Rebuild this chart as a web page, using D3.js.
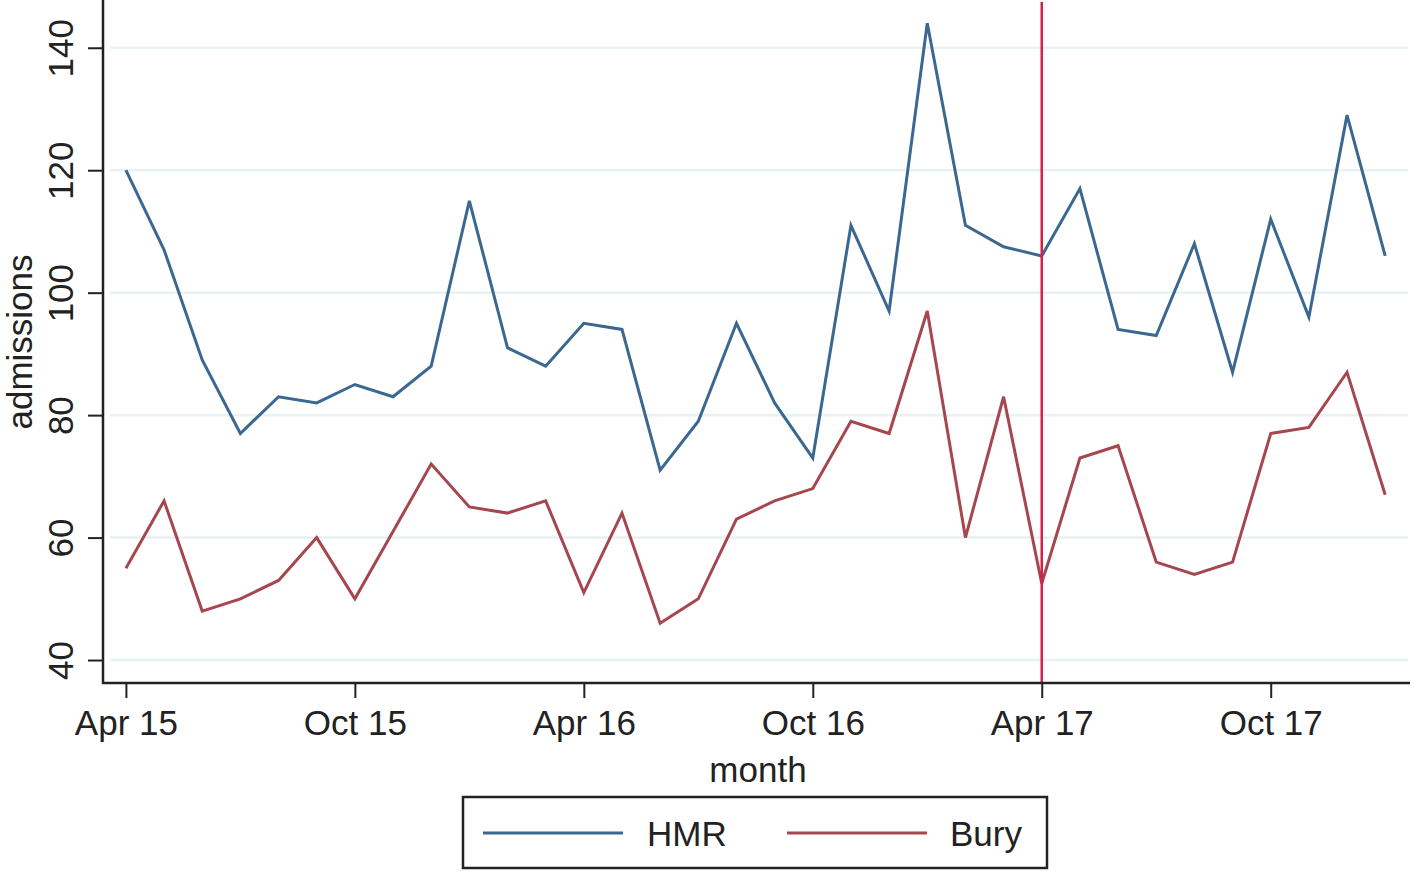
<!DOCTYPE html>
<html><head><meta charset="utf-8">
<script src="https://cdn.jsdelivr.net/npm/d3@7"></script>
<style>body{margin:0;background:#fff;}svg{display:block;font-family:"Liberation Sans",Arial,sans-serif;}</style>
</head><body>
<svg id="c" width="1417" height="873"></svg>
<script>
const months = ["Apr 15","May 15","Jun 15","Jul 15","Aug 15","Sep 15","Oct 15","Nov 15","Dec 15","Jan 16","Feb 16","Mar 16",
"Apr 16","May 16","Jun 16","Jul 16","Aug 16","Sep 16","Oct 16","Nov 16","Dec 16","Jan 17","Feb 17","Mar 17",
"Apr 17","May 17","Jun 17","Jul 17","Aug 17","Sep 17","Oct 17","Nov 17","Dec 17","Jan 18"];
const hmr  = [120,107,89,77,83,82,85,83,88,115,91,88,95,94,71,79,95,82,73,111,97,144,111,107.5,106,117,94,93,108,87,112,96,129,106];
const bury = [55,66,48,50,53,60,50,61,72,65,64,66,51,64,46,50,63,66,68,79,77,97,60,83,52.5,73,75,56,54,56,77,78,87,67];
const xTickIdx = [0,6,12,18,24,30];
const yTicks = [40,60,80,100,120,140];
const interventionIdx = 24;
const seriesNames = ["HMR","Bury"];
const colors = ["#3b6890","#a6464f"];

const svg = d3.select("#c");
const x = d3.scaleLinear().domain([-0.6, 33.65]).range([103, 1410]);
const y = d3.scaleLinear().domain([36.25, 147.8]).range([683, 0]);

// gridlines
svg.append("g").selectAll("line").data(yTicks).join("line")
  .attr("x1", 110).attr("x2", 1408)
  .attr("y1", d => y(d)).attr("y2", d => y(d))
  .attr("stroke", "#e8f1f3").attr("stroke-width", 2.5);

// series lines
const line = d3.line().x((d,i) => x(i)).y(d => y(d));
[hmr, bury].forEach((s, k) => {
  svg.append("path").datum(s).attr("d", line)
    .attr("fill", "none").attr("stroke", colors[k]).attr("stroke-width", 3)
    .attr("stroke-linejoin", "miter");
});

// intervention line
svg.append("line")
  .attr("x1", x(interventionIdx)).attr("x2", x(interventionIdx))
  .attr("y1", 2).attr("y2", 683)
  .attr("stroke", "#d81f4b").attr("stroke-width", 2.5);

// axes
const yAxis = d3.axisLeft(y).tickValues(yTicks).tickSize(15).tickPadding(0).tickFormat(d3.format("d"));
const yg = svg.append("g").attr("transform", "translate(103,0)").call(yAxis);
yg.select(".domain").remove();
yg.selectAll(".tick line").attr("stroke", "#222").attr("stroke-width", 2);
yg.selectAll(".tick text")
  .attr("x", null).attr("dy", null)
  .attr("transform", "translate(-30,0) rotate(-90)")
  .attr("text-anchor", "middle").attr("font-size", 35).attr("fill", "#222")
  .attr("font-family", "Liberation Sans, Arial, sans-serif");

const xAxis = d3.axisBottom(x).tickValues(xTickIdx).tickSize(15).tickPadding(0).tickFormat(i => months[i]);
const xg = svg.append("g").attr("transform", "translate(0,683)").call(xAxis);
xg.select(".domain").remove();
xg.selectAll(".tick line").attr("stroke", "#222").attr("stroke-width", 2);
xg.selectAll(".tick text")
  .attr("y", 52).attr("dy", null)
  .attr("font-size", 35).attr("fill", "#222")
  .attr("font-family", "Liberation Sans, Arial, sans-serif");

// axis lines
svg.append("line").attr("x1", 103).attr("x2", 103).attr("y1", 0).attr("y2", 684)
  .attr("stroke", "#222").attr("stroke-width", 2.5);
svg.append("line").attr("x1", 102).attr("x2", 1410).attr("y1", 683).attr("y2", 683)
  .attr("stroke", "#222").attr("stroke-width", 2.5);

// axis titles
svg.append("text").attr("transform", "translate(32,342) rotate(-90)")
  .attr("text-anchor", "middle").attr("font-size", 35).attr("fill", "#222").text("admissions");
svg.append("text").attr("x", 758).attr("y", 782)
  .attr("text-anchor", "middle").attr("font-size", 35).attr("fill", "#222").text("month");

// legend
const lg = svg.append("g");
lg.append("rect").attr("x", 463).attr("y", 797).attr("width", 584).attr("height", 71)
  .attr("fill", "#fff").attr("stroke", "#222").attr("stroke-width", 2.5);
const legendX = [[483, 647], [787, 950]];
seriesNames.forEach((n, k) => {
  lg.append("line").attr("x1", legendX[k][0]).attr("x2", legendX[k][0] + 140)
    .attr("y1", 833).attr("y2", 833).attr("stroke", colors[k]).attr("stroke-width", 3);
  lg.append("text").attr("x", legendX[k][1]).attr("y", 846)
    .attr("font-size", 35).attr("fill", "#222").text(n);
});
</script>
</body></html>
